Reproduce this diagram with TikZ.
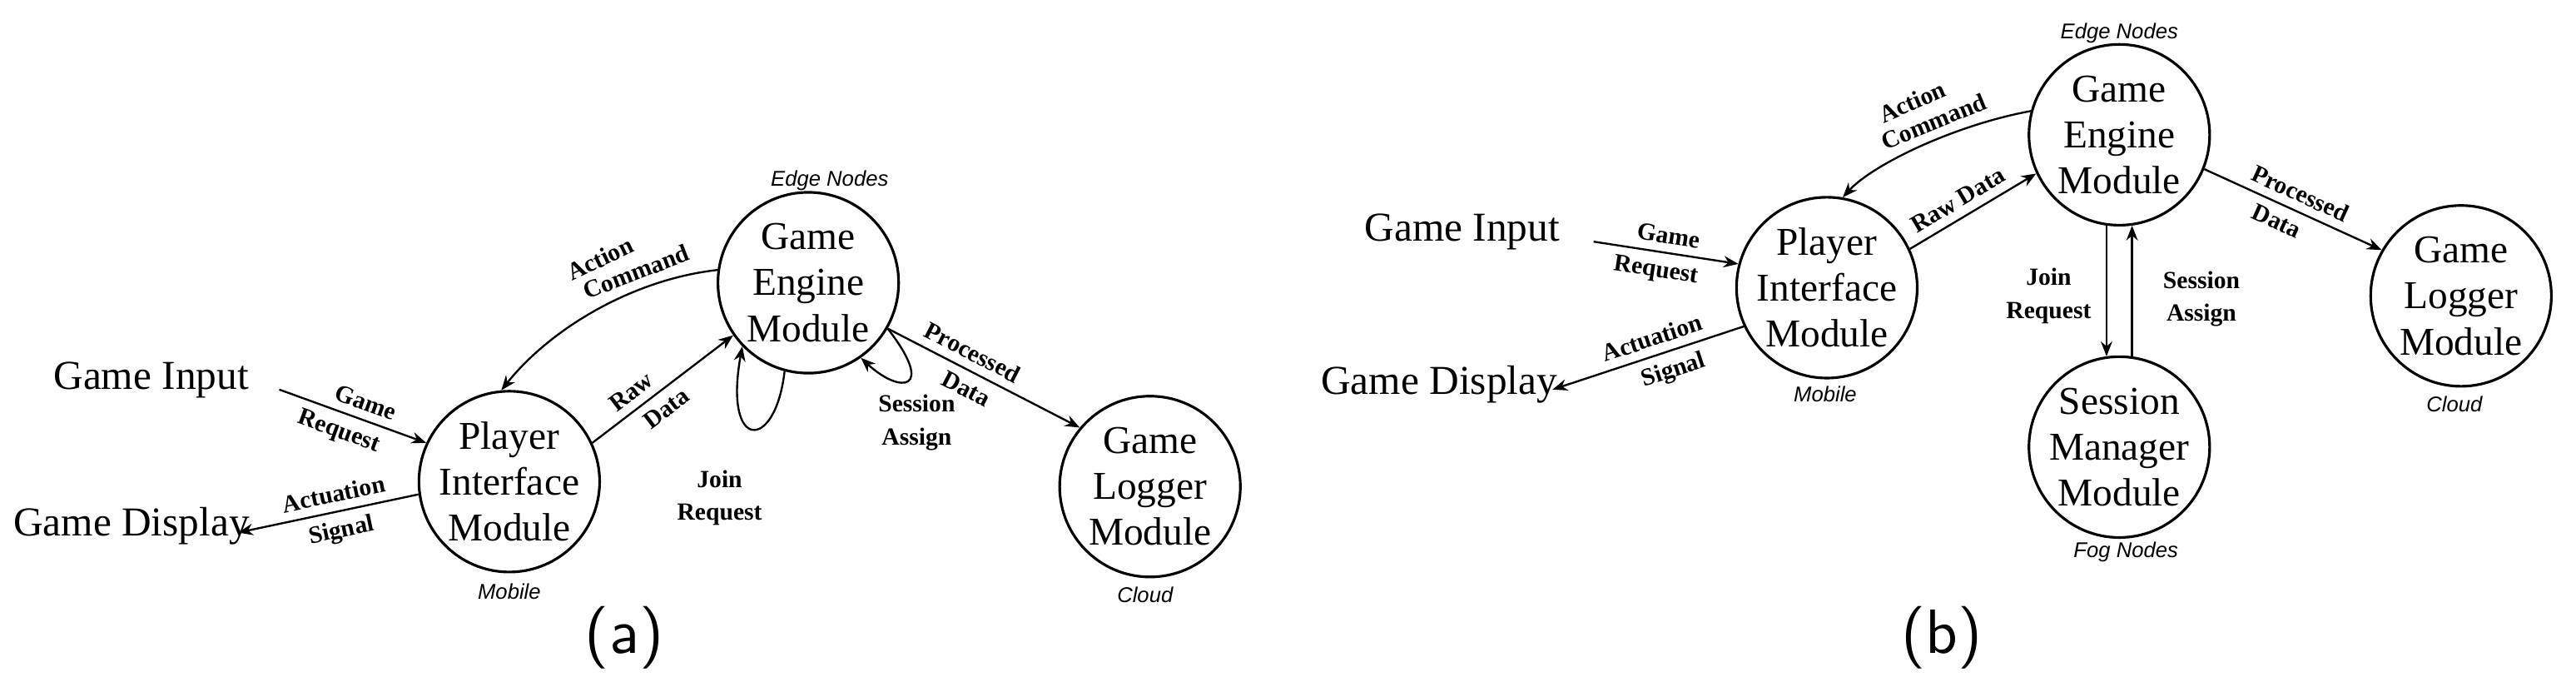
\documentclass[tikz,border=0pt]{standalone}
\usepackage{fontspec}
\setmainfont{Liberation Serif}
\setsansfont{Liberation Sans}
\newfontfamily\capfont{lmsans10-regular.otf}
\usetikzlibrary{arrows.meta}
\tikzset{
  module/.style={circle,draw,thick,minimum size=55pt,inner sep=0pt},
  mtext/.style={align=center,inner sep=0pt,font=\fontsize{12}{14}\selectfont},
  plain/.style={font=\fontsize{12.5}{13.5}\selectfont},
  lbl/.style={font=\bfseries\fontsize{7.5}{10}\selectfont,align=center,inner sep=2.5pt},
  tier/.style={font=\sffamily\itshape\fontsize{6.5}{7}\selectfont},
  flow/.style={-{Stealth[length=4.5pt,width=3.5pt]},semithick}
}
\begin{document}
\begin{tikzpicture}[x=0.5pt,y=-0.5pt]
      \useasboundingbox (0,0) rectangle (1568,424);
      % panel (a)
      \node[plain] (ina) at (92,231) {Game Input};
      \node[plain] (outa) at (80,320) {Game Display};
      \node[module] (pima) at (310,293) {};
      \node[mtext] at (pima) {Player\\Interface\\Module};
      \node[module] (gea) at (492,172) {};
      \node[mtext] at (gea) {Game\\Engine\\Module};
      \node[module] (gla) at (700,296) {};
      \node[mtext] at (gla) {Game\\Logger\\Module};
      \node[tier] at (310,360) {Mobile};
      \node[tier] at (505,110) {Edge Nodes};
      \node[tier] at (697,362) {Cloud};
      \coordinate (ina0) at (170,237);
      \coordinate (outa0) at (145,324);
      \draw[flow] (ina0) -- node[lbl,sloped,above,pos=.55] {Game} node[lbl,sloped,below,pos=.45] {Request} (pima.155);
      \draw[flow] (pima.188) -- node[lbl,sloped,above,pos=.45] {Actuation} node[lbl,sloped,below,pos=.45] {Signal} (outa0);
      \draw[flow] (pima.25) -- node[lbl,sloped,above,pos=.35] {Raw} node[lbl,sloped,below,pos=.45] {Data} (gea.215);
      \draw[flow] (gea.172) .. controls (385,170) and (335,200) .. (pima.95)
        node[lbl,sloped,above,pos=.4,yshift=8pt] {Action} node[lbl,sloped,above,pos=.3] {Command};
      \draw[flow] (gea.330) -- node[lbl,sloped,above,pos=.4] {Processed} node[lbl,sloped,below,pos=.45] {Data} (gla.140);
      \draw[flow] (gea.255) .. controls (472,275) and (440,275) .. (gea.224);
      \draw[flow] (gea.330) .. controls (570,238) and (548,240) .. (gea.305);
      \node[lbl] at (438,303) {Join\\Request};
      \node[lbl] at (558,257) {Session\\Assign};
      \node[font=\capfont\fontsize{19}{20}\selectfont] at (380,388) {(a)};
      % panel (b)
      \node[plain] (inb) at (890,141) {Game Input};
      \node[plain] (outb) at (876,234) {Game Display};
      \node[module] (pimb) at (1112,175) {};
      \node[mtext] at (pimb) {Player\\Interface\\Module};
      \node[module] (geb) at (1290,82) {};
      \node[mtext] at (geb) {Game\\Engine\\Module};
      \node[module] (smb) at (1290,272) {};
      \node[mtext] at (smb) {Session\\Manager\\Module};
      \node[module] (glb) at (1498,180) {};
      \node[mtext] at (glb) {Game\\Logger\\Module};
      \node[tier] at (1111,240) {Mobile};
      \node[tier] at (1290,20) {Edge Nodes};
      \node[tier] at (1294,336) {Fog Nodes};
      \node[tier] at (1494,246) {Cloud};
      \coordinate (inb0) at (970,147);
      \coordinate (outb0) at (945,237);
      \draw[flow] (inb0) -- node[lbl,sloped,above,pos=.5] {Game} node[lbl,sloped,below,pos=.45] {Request} (pimb.165);
      \draw[flow] (pimb.205) -- node[lbl,sloped,above,pos=.45] {Actuation} node[lbl,sloped,below,pos=.4] {Signal} (outb0);
      \draw[flow] (pimb.25) -- node[lbl,sloped,above,pos=.45] {Raw Data} (geb.205);
      \draw[flow] (geb.165) .. controls (1190,76) and (1140,100) .. (pimb.80)
        node[lbl,sloped,above,pos=.45,yshift=8pt] {Action} node[lbl,sloped,above,pos=.4] {Command};
      \draw[flow] (geb.338) -- node[lbl,sloped,above,pos=.5] {Processed} node[lbl,sloped,below,pos=.45] {Data} (glb.150);
      \draw[flow] (geb.262) -- (smb.98);
      \draw[flow] (smb.82) -- (geb.278);
      \node[lbl] at (1247,180) {Join\\Request};
      \node[lbl] at (1340,182) {Session\\Assign};
      \node[font=\capfont\fontsize{19}{20}\selectfont] at (1182,388) {(b)};
\end{tikzpicture}
\end{document}
